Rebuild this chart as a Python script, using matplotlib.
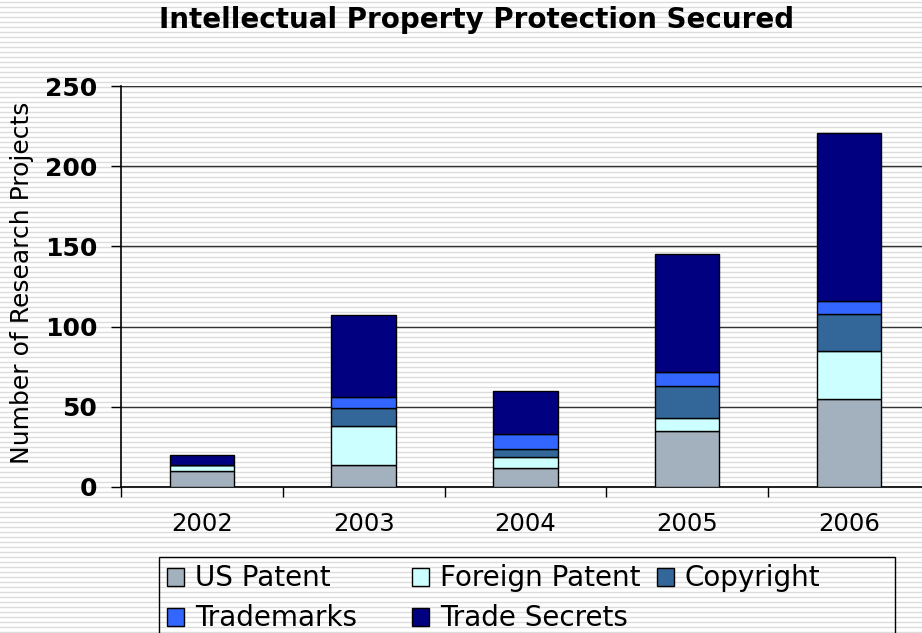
import matplotlib
matplotlib.use('Agg')
import matplotlib.pyplot as plt
from matplotlib.lines import Line2D
from matplotlib.patches import Rectangle
import numpy as np

years = ['2002', '2003', '2004', '2005', '2006']
us_patent = [10, 14, 12, 35, 55]
foreign_patent = [4, 24, 7, 8, 30]
copyright_ = [0, 11, 5, 20, 23]
trademarks = [0, 7, 9, 9, 8]
trade_secrets = [6, 51, 27, 73, 105]

series = [
    ('US Patent', us_patent, '#A3B1BF'),
    ('Foreign Patent', foreign_patent, '#CCFFFF'),
    ('Copyright', copyright_, '#336699'),
    ('Trademarks', trademarks, '#3366FF'),
    ('Trade Secrets', trade_secrets, '#000080'),
]

W, H = 922, 633
fig = plt.figure(figsize=(W / 100, H / 100), dpi=100)
fig.patch.set_facecolor('white')

# striped slide background
for yp in np.arange(2, H, 5):
    fig.add_artist(Line2D([0, 1], [1 - yp / H, 1 - yp / H], transform=fig.transFigure,
                          color='#dcdcdc', lw=1.0, zorder=0))

ax = fig.add_axes([121 / W, 1 - 487 / H, 1 - 121 / W, (487 - 86) / H])
ax.patch.set_alpha(0)

x = np.arange(len(years))
bottom = np.zeros(len(years))
handles = {}
for name, vals, col in series:
    b = ax.bar(x, vals, 0.4, bottom=bottom, color=col, edgecolor='black', linewidth=1,
               label=name, zorder=3)
    handles[name] = b
    bottom += np.array(vals)

ax.set_yticks(range(0, 251, 50))
ax.set_xticks(x)
ax.set_xticklabels(years, fontsize=17.5)
ax.set_xticks(np.arange(-0.5, 5, 1), minor=True)
ax.set_ylim(0, 250)
ax.set_xlim(-0.5, -0.5 + 801 / 161.75)
ax.tick_params(axis='x', which='major', length=0, pad=18)
ax.tick_params(axis='x', which='minor', length=7, width=1, direction='out')
ax.tick_params(axis='y', length=7, width=1, direction='out', pad=10, labelsize=18)
for lab in ax.get_yticklabels():
    lab.set_fontweight('bold')

ax.grid(axis='y', color='#333333', linewidth=1, zorder=1)
ax.set_axisbelow(True)
for s in ['top', 'right']:
    ax.spines[s].set_visible(False)
ax.spines['left'].set_linewidth(1.2)
ax.spines['bottom'].set_linewidth(1.2)

ax.set_ylabel('Number of Research Projects', fontsize=18)
ax.yaxis.set_label_coords(-0.108, 0.51)
fig.text(477 / W, 1 - 20 / H, 'Intellectual Property Protection Secured',
         ha='center', va='center', fontsize=20, fontweight='bold')

# legend frame (fixed width, runs off the bottom)
fig.add_artist(Rectangle((159 / W, 1 - 645 / H), (895 - 159) / W, (645 - 557) / H,
                         transform=fig.transFigure, fill=False, edgecolor='black', lw=1))
columns = [['US Patent', 'Trademarks'], ['Foreign Patent', 'Trade Secrets'], ['Copyright']]
for i, names in enumerate(columns):
    fig.legend([handles[n] for n in names], names, loc='upper left',
               bbox_to_anchor=((159.5 + 245 * i) / W, 1 - 557 / H), fontsize=20,
               frameon=False, handlelength=0.62, handleheight=0.62, handletextpad=0.38,
               labelspacing=0.43, borderpad=0.27, borderaxespad=0)

fig.savefig('out.png', dpi=100)
